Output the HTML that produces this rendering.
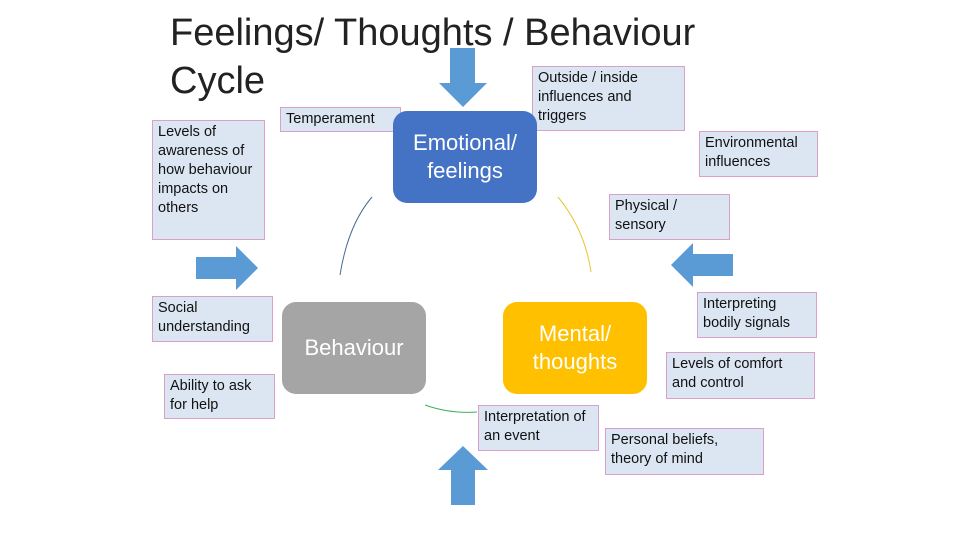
<!DOCTYPE html>
<html><head><style>
body{margin:0;width:960px;height:540px;background:#fff;position:relative;overflow:hidden;font-family:"Liberation Sans",sans-serif}
.t{position:absolute;left:170px;font-size:38px;color:#222;line-height:1}
.b{position:absolute;background:#dce6f2;border:1px solid #d9a0c9;box-sizing:border-box;font-size:14.5px;line-height:19px;color:#111;padding:2px 5px}
.n{position:absolute;width:144px;height:92px;border-radius:14px;color:#fff;font-size:22px;display:flex;align-items:center;justify-content:center;text-align:center;line-height:28px}
</style></head><body>
<div class="t" style="top:14px">Feelings/ Thoughts / Behaviour</div>
<div class="t" style="top:62px">Cycle</div>
<svg width="960" height="540" style="position:absolute;left:0;top:0">
<path d="M340 275 Q348 225 372 197" stroke="#4a6a8f" fill="none" stroke-width="1"/>
<path d="M558 197 Q585 230 591 272" stroke="#e8c830" fill="none" stroke-width="1"/>
<path d="M425 405 Q450 414 477 412" stroke="#3fb05a" fill="none" stroke-width="1"/>
<polygon points="450,48 475,48 475,83 487,83 463,107 439,83 450,83" fill="#5b9bd5"/>
<polygon points="451,505 475,505 475,470 488,470 463,446 438,470 451,470" fill="#5b9bd5"/>
<polygon points="196,257 236,257 236,246 258,268 236,290 236,279 196,279" fill="#5b9bd5"/>
<polygon points="733,254 693,254 693,243 671,265 693,287 693,276 733,276" fill="#5b9bd5"/>
</svg>
<div class="b" style="left:152px;top:120px;width:113px;height:120px">Levels of awareness of how behaviour impacts on others</div>
<div class="b" style="left:280px;top:107px;width:121px;height:25px">Temperament</div>
<div class="b" style="left:532px;top:66px;width:153px;height:65px">Outside / inside influences and triggers</div>
<div class="b" style="left:699px;top:131px;width:119px;height:46px">Environmental influences</div>
<div class="b" style="left:609px;top:194px;width:121px;height:46px">Physical / sensory</div>
<div class="b" style="left:152px;top:296px;width:121px;height:46px">Social understanding</div>
<div class="b" style="left:164px;top:374px;width:111px;height:45px">Ability to ask for help</div>
<div class="b" style="left:697px;top:292px;width:120px;height:46px">Interpreting bodily signals</div>
<div class="b" style="left:666px;top:352px;width:149px;height:47px">Levels of comfort and control</div>
<div class="b" style="left:478px;top:405px;width:121px;height:46px">Interpretation of an event</div>
<div class="b" style="left:605px;top:428px;width:159px;height:47px">Personal beliefs, theory of mind</div>
<div class="n" style="left:393px;top:111px;background:#4472c4">Emotional/<br>feelings</div>
<div class="n" style="left:282px;top:302px;background:#a5a5a5">Behaviour</div>
<div class="n" style="left:503px;top:302px;background:#ffc000">Mental/<br>thoughts</div>
</body></html>
